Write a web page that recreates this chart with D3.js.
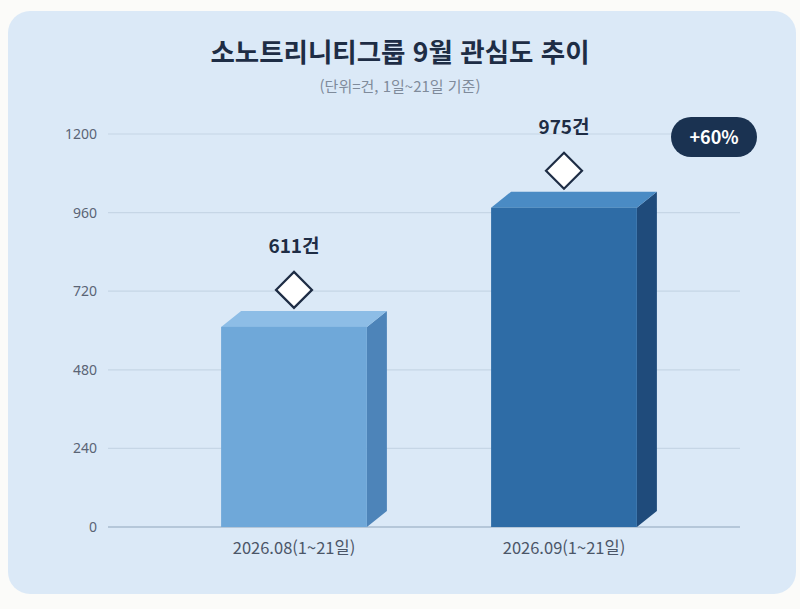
<!DOCTYPE html>
<html lang="ko">
<head>
<meta charset="UTF-8">
<title>소노트리니티그룹 9월 관심도 추이</title>
<script src="https://d3js.org/d3.v7.min.js"></script>
<style>
  html, body { margin: 0; padding: 0; background: #fbfbf9; }
  svg { display: block; font-family: "Noto Sans CJK KR", "Noto Sans", sans-serif; }
</style>
</head>
<body>
<div id="chart"></div>
<script>
// data
const categories = ['2026.08(1~21일)', '2026.09(1~21일)'];
const counts = [611, 975];
const valueLabels = ['611건', '975건'];
const yTicks = [0, 240, 480, 720, 960, 1200];
const changeLabel = '+60%';

const W = 800, H = 609;
const svg = d3.select('#chart').append('svg').attr('width', W).attr('height', H);

// card
svg.append('rect')
  .attr('x', 8).attr('y', 11).attr('width', 788).attr('height', 583)
  .attr('rx', 22).attr('fill', '#dbe9f7');

svg.append('text')
  .attr('x', 400).attr('y', 62)
  .attr('text-anchor', 'middle')
  .attr('font-size', 26.5).attr('font-weight', 700)
  .attr('fill', '#1e2d45')
  .text('소노트리니티그룹 9월 관심도 추이');

svg.append('text')
  .attr('x', 400).attr('y', 92)
  .attr('text-anchor', 'middle')
  .attr('font-size', 15)
  .attr('fill', '#7f8b9b')
  .text('(단위=건, 1일~21일 기준)');

const y = d3.scaleLinear().domain([0, 1200]).range([527, 134]);
const x = d3.scaleBand().domain(categories).range([159, 699]).paddingInner(0.46).paddingOuter(0.23);

// grid
const grid = svg.append('g');
grid.selectAll('line').data(yTicks).join('line')
  .attr('x1', 108).attr('x2', 740)
  .attr('y1', d => y(d)).attr('y2', d => y(d))
  .attr('stroke', d => d === 0 ? '#a8bbcf' : '#c6d6e6')
  .attr('stroke-width', d => d === 0 ? 1.6 : 1.2);

const yAxis = d3.axisLeft(y).tickValues(yTicks).tickFormat(d3.format('d')).tickSize(0).tickPadding(0);
const ga = svg.append('g').attr('transform', 'translate(97,0)').call(yAxis);
ga.select('.domain').remove();
ga.selectAll('text')
  .attr('font-size', 14).attr('fill', '#5a6475')
  .attr('font-family', '"Noto Sans", sans-serif');

const xAxis = d3.axisBottom(x).tickSize(0).tickPadding(0);
const gx = svg.append('g').attr('transform', 'translate(0,542)').call(xAxis);
gx.select('.domain').remove();
gx.selectAll('text')
  .attr('font-size', 16.5).attr('fill', '#4b5668')
  .attr('font-family', '"Noto Sans CJK KR", sans-serif');

// 3D bars
const dx = 20, dy = 16;
const colors = [
  { front: '#6fa8d9', top: '#8dbde6', side: '#4d84b9' },
  { front: '#2e6ca6', top: '#4a8bc4', side: '#1f4b7b' }
];
const bars = svg.append('g');
categories.forEach((c, i) => {
  const x0 = x(c), x1 = x0 + x.bandwidth();
  const yt = y(counts[i]), yb = y(0);
  const col = colors[i];
  bars.append('polygon')
    .attr('points', [[x1, yt], [x1 + dx, yt - dy], [x1 + dx, yb - dy], [x1, yb]].join(' '))
    .attr('fill', col.side);
  bars.append('polygon')
    .attr('points', [[x0, yt], [x0 + dx, yt - dy], [x1 + dx, yt - dy], [x1, yt]].join(' '))
    .attr('fill', col.top);
  bars.append('rect')
    .attr('x', x0).attr('y', yt).attr('width', x.bandwidth()).attr('height', yb - yt)
    .attr('fill', col.front);

  const cx = x0 + x.bandwidth() / 2;
  const cy = yt - 37;
  const r = 18;
  bars.append('polygon')
    .attr('points', [[cx, cy - r], [cx + r, cy], [cx, cy + r], [cx - r, cy]].join(' '))
    .attr('fill', '#ffffff').attr('stroke', '#1e2d45').attr('stroke-width', 2.2)
    .attr('stroke-linejoin', 'miter');
  bars.append('text')
    .attr('x', cx).attr('y', cy - 37)
    .attr('text-anchor', 'middle')
    .attr('font-size', 19).attr('font-weight', 700).attr('fill', '#1e2d45')
    .text(valueLabels[i]);
});

// change badge
const badge = svg.append('g').attr('transform', 'translate(714,137)');
badge.append('rect')
  .attr('x', -43).attr('y', -20).attr('width', 86).attr('height', 40)
  .attr('rx', 20).attr('fill', '#1a3251');
badge.append('text')
  .attr('y', 7).attr('text-anchor', 'middle')
  .attr('font-size', 18).attr('font-weight', 700).attr('fill', '#ffffff')
  .text(changeLabel);
</script>
</body>
</html>
